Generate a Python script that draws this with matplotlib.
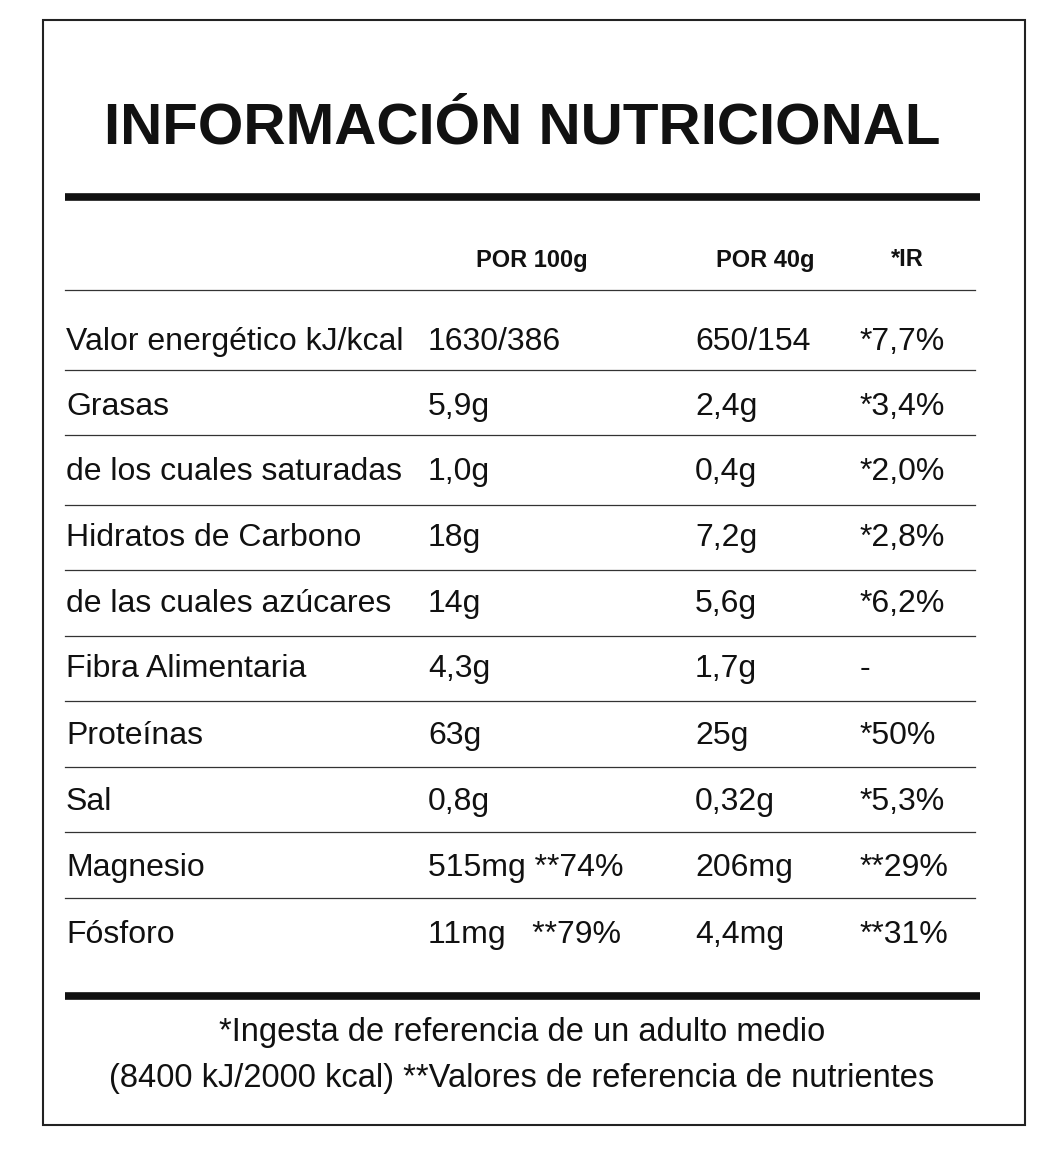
import matplotlib.pyplot as plt
from matplotlib.patches import Rectangle

TITLE = 'INFORMACIÓN NUTRICIONAL'
HEADERS = ['POR 100g', 'POR 40g', '*IR']
LABELS = ['Valor energético kJ/kcal', 'Grasas', 'de los cuales saturadas',
          'Hidratos de Carbono', 'de las cuales azúcares', 'Fibra Alimentaria',
          'Proteínas', 'Sal', 'Magnesio', 'Fósforo']
PER100 = ['1630/386', '5,9g', '1,0g', '18g', '14g', '4,3g', '63g', '0,8g',
          '515mg **74%', '11mg   **79%']
PER40 = ['650/154', '2,4g', '0,4g', '7,2g', '5,6g', '1,7g', '25g', '0,32g',
         '206mg', '4,4mg']
IR = ['*7,7%', '*3,4%', '*2,0%', '*2,8%', '*6,2%', '-', '*50%', '*5,3%',
      '**29%', '**31%']
FOOTER = ['*Ingesta de referencia de un adulto medio',
          '(8400 kJ/2000 kcal) **Valores de referencia de nutrientes']

W, H = 1042, 1175
fig = plt.figure(figsize=(W / 100, H / 100), dpi=100)
ax = fig.add_axes([0, 0, 1, 1])
ax.set_xlim(0, W)
ax.set_ylim(H, 0)
ax.axis('off')

font = 'Liberation Sans'

ax.add_patch(Rectangle((43, 20), 982, 1105, fill=False, lw=1.5, ec='#222222'))
ax.text(522, 128, TITLE, ha='center', va='center', fontsize=42,
        fontweight='bold', family=font, color='#111111')
ax.plot([65, 980], [197, 197], color='#111111', lw=5.5, solid_capstyle='butt')
ax.plot([65, 980], [996, 996], color='#111111', lw=5.5, solid_capstyle='butt')

for hx, h in zip([532, 765, 907], HEADERS):
    ax.text(hx, 260, h, ha='center', va='center', fontsize=17,
            fontweight='bold', family=font, color='#111111')

row_y = [342, 407, 472, 538, 604, 669, 736, 802, 868, 935]
sep_y = [290, 370, 435, 505, 570, 636, 701, 767, 832, 898]
for y in sep_y:
    ax.plot([65, 975], [y, y], color='#333333', lw=0.9)

for y, lab, a, b, c in zip(row_y, LABELS, PER100, PER40, IR):
    kw = dict(va='center', fontsize=23, family=font, color='#111111')
    ax.text(66, y, lab, ha='left', **kw)
    ax.text(428, y, a, ha='left', **kw)
    ax.text(695, y, b, ha='left', **kw)
    ax.text(860, y, c, ha='left', **kw)

for y, f in zip([1033, 1078], FOOTER):
    ax.text(522, y, f, ha='center', va='center', fontsize=23.5,
            family=font, color='#111111')

fig.savefig('out.png', dpi=100, facecolor='white')
